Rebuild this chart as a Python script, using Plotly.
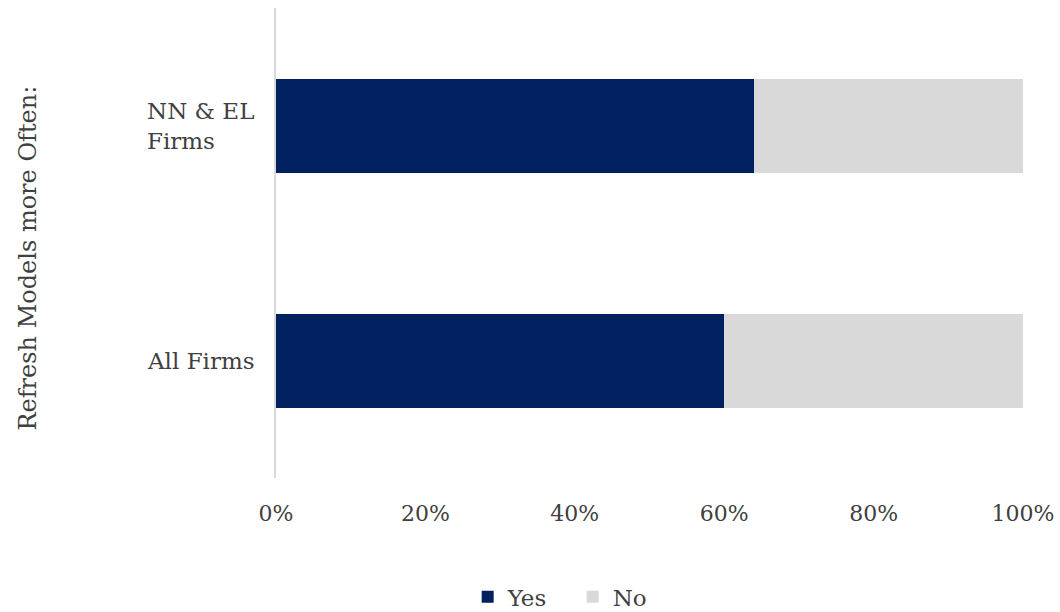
import plotly.graph_objects as go

# Survey groups (bottom to top) and their shares answering Yes / No
groups = ["All Firms", "NN & EL Firms"]
group_labels = ["All Firms", "NN &amp; EL<br>Firms"]
yes_share = [0.60, 0.64]
no_share = [0.40, 0.36]
x_ticks = [0, 0.2, 0.4, 0.6, 0.8, 1.0]

FONT = "DejaVu Serif"
TEXT = "#404040"

fig = go.Figure()
fig.add_trace(go.Bar(
    name="Yes", y=groups, x=yes_share, orientation="h",
    marker=dict(color="#002060", line=dict(width=0)),
))
fig.add_trace(go.Bar(
    name="No", y=groups, x=no_share, orientation="h",
    marker=dict(color="#d9d9d9", line=dict(width=0)),
))

# Left-aligned category labels
for g, lab in zip(groups, group_labels):
    fig.add_annotation(
        x=-0.1754, xref="paper", y=g, yref="y",
        text=lab, showarrow=False, xanchor="left", yanchor="middle",
        align="left", font=dict(family=FONT, size=23, color=TEXT),
    )

# Vertical axis title
fig.add_annotation(
    x=-0.332, xref="paper", y=0.469, yref="paper",
    text="Refresh Models more Often:", textangle=-90, showarrow=False,
    xanchor="center", yanchor="middle",
    font=dict(family=FONT, size=24, color=TEXT),
)

fig.update_layout(
    width=1060, height=612,
    margin=dict(l=276, r=37, t=8, b=134, autoexpand=False),
    barmode="stack", bargap=0.6,
    plot_bgcolor="white", paper_bgcolor="white",
    font=dict(family=FONT, size=23, color=TEXT),
    showlegend=True,
    legend=dict(
        orientation="h", traceorder="normal",
        x=0.2566, xanchor="left",
        yref="container", y=0.025, yanchor="middle",
        font=dict(family=FONT, size=23, color=TEXT),
        itemwidth=30, tracegroupgap=0, entrywidth=60,
    ),
    xaxis=dict(
        range=[0, 1], tickvals=x_ticks, tickformat=".0%",
        showgrid=False, zeroline=False, showline=False,
        ticks="", ticklabelstandoff=20, automargin=False,
        tickfont=dict(family=FONT, size=22, color=TEXT),
    ),
    yaxis=dict(
        showticklabels=False, showgrid=False, zeroline=False, automargin=False,
        showline=True, linecolor="#d9d9d9", linewidth=1.5, ticks="",
    ),
)

fig.write_html("out.html")
